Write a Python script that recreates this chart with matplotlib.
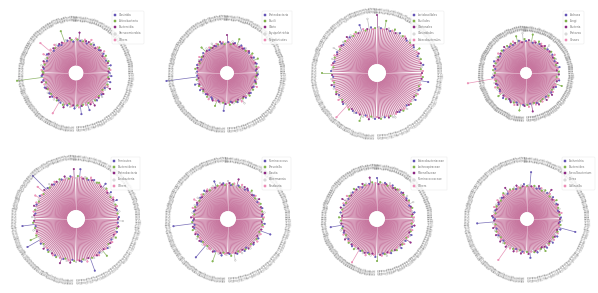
import matplotlib
matplotlib.use('Agg')
import matplotlib.pyplot as plt
import numpy as np
from matplotlib.lines import Line2D

W, H = 598, 293

# ---------------- data ----------------
p1_values = [26,25,27,26,25,28,24,26,27,25,26,25,27,24,26,28,25,26,25,27,26,24,25,26,
             27,25,29,26,24,26,27,25,26,25,33,26,27,25,24,26,28,25,26,27,37,25,26,24,
             26,25,27,28,25,26,24,27,39,25,26,27,30,25,26,24,27,26,25,28,26,25,27,26,
             25,26,27,52,25,26,28,24,26,25,27,26,25,24,27,26,25,28,26,25,27,24,26,25,
             39,26,25,27,29,25,26,24,27,26,25,28,26,25,27,34,26,25,24,26,32,25,27,26,
             30,25,26,27,24,26,25,28,26,27,25,24,26,25,30,27,26,25,28,24,26,25,28,26]
p1_groups = ("024130421034120432014230" "314202413021430124031420" "203412044320413024132041"
             "120140214302143012043210" "403124013420314021340124" "231042130241302413042103")
p1_legend = ["Clostridia", "Actinobacteria", "Bacteroidia", "Verrucomicrobia", "Others"]

p2_values = [23,24,22,23,25,23,22,24,23,22,27,23,24,22,23,25,22,23,24,23,22,24,23,22,
             23,24,22,23,29,22,24,23,25,22,23,24,31,23,22,24,23,25,22,23,24,22,23,26,
             22,23,24,22,25,23,29,22,24,23,22,23,25,22,24,23,22,23,24,22,23,25,22,23,
             24,22,23,54,22,24,23,22,27,23,24,22,23,25,22,23,24,22,23,22,24,23,25,22,
             23,24,22,23,28,22,23,24,22,23,31,24,22,23,25,22,23,24,22,23,24,22,23,25,
             28,23,22,24,23,22,25,23,24,22,23,24,22,23,26,22,24,23,22,23,24,22,23,24]
p2_groups = ("130241302413024130241302" "402314023140231402314023" "214032140321403214032140"
             "340021340213402134021340" "023410234102341023410234" "312043120431204312043120")
p2_legend = ["Proteobacteria", "Bacilli", "Vibrio", "Erysipelotrichia", "Negativicutes"]

p3_values = [36,37,35,36,38,36,35,37,36,35,37,36,40,35,36,37,35,36,38,35,36,37,36,35,
             37,36,35,38,36,35,37,36,44,35,36,37,49,36,35,37,46,36,35,37,42,36,35,37,
             36,35,37,36,38,35,36,37,35,36,37,35,41,36,35,37,36,38,35,36,37,35,36,37,
             46,36,35,37,36,35,38,36,37,35,36,37,35,36,38,35,36,37,35,51,36,37,35,36,
             37,36,35,36,42,37,35,36,38,35,36,37,35,36,37,35,36,35,37,36,38,39,36,35,
             36,35,37,36,38,35,36,37,35,36,38,35,36,37,35,36,37,35,36,35,43,36,37,35]
p3_groups = ("241302413024130241302413" "032140321403214032140321" "413024130241302413024130"
             "120341203412034120344120" "304213042130421304213342" "021430214302143021430214")
p3_legend = ["Lactobacillales", "Bacillales", "Vibrionales", "Clostridiales", "Enterobacterales"]

p4_values = [26,27,25,26,28,26,25,27,26,25,27,26,25,28,26,25,27,26,25,26,30,25,27,26,
             25,27,26,28,25,26,27,25,33,26,27,25,26,28,34,25,26,27,32,25,26,28,25,27,
             26,25,27,26,28,25,26,27,25,26,28,25,26,27,25,26,28,26,25,27,26,25,27,26,
             25,27,26,28,53,26,25,27,26,25,28,26,27,25,26,27,30,25,26,28,25,27,26,25,
             26,27,25,26,28,25,27,26,32,25,26,27,25,26,28,25,33,26,25,27,26,28,25,26,
             27,25,26,28,25,27,26,25,28,26,27,25,26,25,27,26,32,25,26,28,27,25,26,27]
p4_groups = ("312403124031240312403124" "240132401324013240132401" "401324013240132401324013"
             "132044132041320413204132" "023140231402314023140231" "413204132041320413204132")
p4_legend = ["Archaea", "Fungi", "Bacteria", "Protozoa", "Viruses"]

p5_values = [33,34,32,33,35,33,32,34,33,32,36,33,34,32,33,35,32,33,34,33,37,32,33,34,
             33,32,34,33,35,32,33,34,32,33,41,34,32,41,33,34,32,33,35,32,33,34,32,33,
             34,32,33,35,32,33,52,34,41,32,33,34,38,33,32,34,33,35,32,33,34,32,33,35,
             32,33,34,45,32,33,35,32,33,34,41,32,47,33,34,32,33,35,32,33,34,32,33,34,
             33,34,32,33,38,33,32,34,33,35,32,33,34,32,33,34,32,33,35,32,46,33,34,32,
             33,34,32,33,39,32,33,34,35,32,33,34,32,33,35,32,33,34,32,33,34,32,33,38]
p5_groups = ("204130241302413024130241" "130240132401324013240132" "402310024140431402314023"
             "321001324113040132401324" "013420134201342013420134" "240312403124031240312403")
p5_legend = ["Firmicutes", "Bacteroidetes", "Proteobacteria", "Fusobacteria", "Others"]

p6_values = [27,28,26,27,29,27,26,28,27,26,28,27,26,29,27,26,28,27,26,27,29,26,27,28,
             26,28,27,29,26,27,33,26,28,27,26,28,30,27,26,28,27,29,26,27,32,26,28,27,
             27,26,28,27,29,26,27,28,26,27,29,26,31,27,26,28,27,29,26,27,28,26,27,29,
             26,27,28,47,26,28,27,29,26,27,28,26,27,29,26,28,27,26,28,27,42,26,28,27,
             27,26,28,27,37,26,28,27,29,26,27,28,26,27,29,26,34,27,28,26,27,29,26,28,
             27,26,28,29,27,26,28,27,26,29,27,28,26,27,28,26,37,27,26,28,27,29,26,27]
p6_groups = ("140231402314023140231402" "023410234102341023410234" "314203142031420314203142"
             "201002013420134201340134" "432014320143201432014320" "102341023410234102341023")
p6_legend = ["Ruminococcus", "Prevotella", "Blautia", "Akkermansia", "Roseburia"]

p7_values = [28,29,27,28,30,28,27,29,28,27,32,28,29,27,28,30,27,28,29,28,27,29,28,27,
             28,27,29,28,30,27,28,29,27,28,29,27,33,28,27,29,34,28,27,29,28,30,27,28,
             29,27,28,30,27,28,29,27,28,30,27,28,32,27,29,28,27,30,28,27,29,28,27,30,
             27,28,29,28,39,27,28,30,27,28,29,27,28,30,27,28,29,27,28,29,27,30,28,27,
             42,28,27,29,28,30,27,28,29,27,28,30,34,27,28,29,27,28,30,27,28,29,27,28,
             28,29,27,28,30,27,28,29,27,28,33,27,28,29,30,27,28,29,27,28,30,27,28,29]
p7_groups = ("341203412034120341203412" "120431204312043120431204" "032140321403214032140321"
             "413200132041320413204132" "401324013240132401324013" "214302143021430214302143")
p7_legend = ["Enterobacteriaceae", "Lachnospiraceae", "Rikenellaceae", "Ruminococcaceae", "Others"]

p8_values = [26,27,25,26,28,26,25,27,26,25,27,26,25,28,26,25,27,26,25,27,31,26,25,27,
             26,25,27,26,28,25,26,27,25,26,40,27,26,25,28,26,27,25,26,28,25,27,26,25,
             27,26,31,25,26,28,27,25,26,27,25,28,26,25,27,26,28,25,26,27,25,26,28,27,
             25,26,43,27,25,26,28,25,27,26,25,28,26,27,25,26,28,25,27,26,25,28,43,26,
             27,25,26,28,25,27,26,25,28,26,27,25,26,28,32,26,25,27,26,28,25,27,26,25,
             30,26,28,25,27,26,25,28,26,27,25,26,28,25,27,26,25,28,43,26,27,25,26,28]
p8_groups = ("203142031420314203142031" "314020314203140231420314" "142031420314203142031420"
             "020314203142031420314243" "431204312043120431204312" "120341203412034120041203")
p8_legend = ["Escherichia", "Bacteroides", "Faecalibacterium", "Dorea", "Collinsella"]

category_names = ["C%03d" % (i + 1) for i in range(144)]

# ---------------- style ----------------
face = ['#6f5fc4', '#8cc152', '#9b2d8f', '#f4f4f4', '#f59cc3']
edge = ['#4d3fa0', '#6b9e3a', '#7a1f70', '#aaaaaa', '#e0709f']
line_c = '#c7769f'

layout = [
    dict(cx=76, cy=73, hole=7.5, base=25, ring=55, R=64, lx=112, ly=11),
    dict(cx=227, cy=73, hole=7, base=23, ring=56, R=64, lx=262, ly=11),
    dict(cx=377, cy=73, hole=9, base=36, ring=63, R=71, lx=411, ly=11),
    dict(cx=526, cy=73, hole=6, base=26, ring=45, R=62, lx=563, ly=11),
    dict(cx=76, cy=219, hole=9, base=33, ring=62, R=71, lx=111, ly=157),
    dict(cx=228, cy=219, hole=8, base=27, ring=60, R=68, lx=262, ly=157),
    dict(cx=377, cy=219, hole=8, base=28, ring=53, R=62, lx=411, ly=157),
    dict(cx=527, cy=219, hole=7, base=26, ring=60, R=68, lx=562, ly=157),
]
data = [(p1_values, p1_groups, p1_legend), (p2_values, p2_groups, p2_legend),
        (p3_values, p3_groups, p3_legend), (p4_values, p4_groups, p4_legend),
        (p5_values, p5_groups, p5_legend), (p6_values, p6_groups, p6_legend),
        (p7_values, p7_groups, p7_legend), (p8_values, p8_groups, p8_legend)]

fig = plt.figure(figsize=(W / 100, H / 100), dpi=100)

for k, ((vals, grp_s, leg), L) in enumerate(zip(data, layout)):
    grp = [int(c) for c in grp_s]
    N = len(vals)
    assert len(grp) == N, (k, len(grp), N)
    R, hole, base = L['R'], L['hole'], L['base']
    ax = fig.add_axes([(L['cx'] - R) / W, 1 - (L['cy'] + R) / H, 2 * R / W, 2 * R / H],
                      projection='polar')
    ax.set_rorigin(-hole)
    ax.set_ylim(0, R - hole)
    ax.axis('off')
    theta = np.linspace(0, 2 * np.pi, N, endpoint=False)
    for t, v, g in zip(theta, vals, grp):
        ax.plot([t, t], [0, min(v, base)], color=line_c, lw=0.75, alpha=0.9,
                solid_capstyle='butt', zorder=1)
        if v > base:
            ax.plot([t, t], [base, v], color=edge[g], lw=0.5, alpha=0.75,
                    solid_capstyle='butt', zorder=1)
    for t in [0, np.pi / 2, np.pi, 3 * np.pi / 2]:
        ax.plot([t, t], [0, base], color='white', lw=0.5, alpha=0.5, zorder=2)
    ax.scatter(theta, vals, s=1.4, c=[face[g] for g in grp],
               edgecolors=[edge[g] for g in grp], linewidths=0.25, zorder=3)
    rlab = L['ring'] - hole - 3
    for t, name in zip(theta, category_names[:N]):
        deg = np.degrees(t)
        if 90 < deg < 270:
            rot, ha = deg + 180, 'right'
        else:
            rot, ha = deg, 'left'
        ax.text(t, rlab, name, rotation=rot, ha=ha, va='center', rotation_mode='anchor',
                fontsize=1.8, color='#7a7a7a')
    handles = [Line2D([], [], marker='s', ls='none', markersize=1.5,
                      markerfacecolor=face[i], markeredgecolor=edge[i], markeredgewidth=0.3)
               for i in range(5)]
    lg = fig.legend(handles, leg, loc='upper left',
                    bbox_to_anchor=(L['lx'] / W, 1 - L['ly'] / H),
                    fontsize=2.0, frameon=True, borderpad=0.8, labelspacing=0.75,
                    handlelength=0.8, handletextpad=0.9, borderaxespad=0,
                    labelcolor='#777777')
    lg.get_frame().set_linewidth(0.3)
    lg.get_frame().set_edgecolor('#e0e0e0')

fig.savefig('out.png', dpi=100, facecolor='white')
